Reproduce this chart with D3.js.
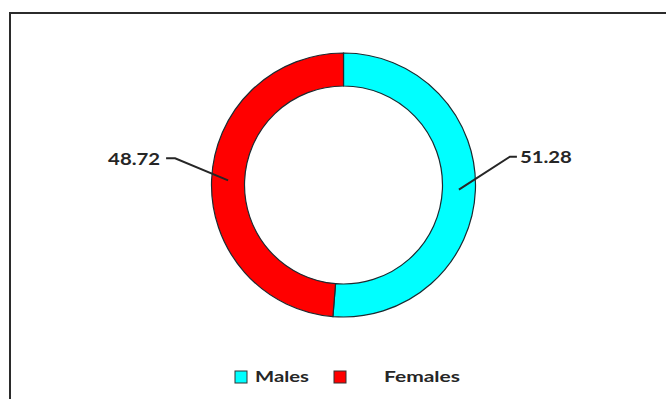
<!DOCTYPE html>
<html>
<head>
<meta charset="utf-8">
<script src="https://cdn.jsdelivr.net/npm/d3@7"></script>
<style>
  html, body { margin: 0; padding: 0; background: #fff; }
  svg { display: block; }
  text { font-family: Lato, "Open Sans", "Liberation Sans", sans-serif; font-weight: bold; fill: #262626; }
</style>
</head>
<body>
<svg id="chart" width="666" height="399"></svg>
<script>
// Population share by sex (%)
const categories = ["Males", "Females"];
const values = [51.28, 48.72];
const colors = ["#00FFFF", "#FF0000"];

const svg = d3.select("#chart");
const W = 666, H = 399;

// chart frame (runs off the right and bottom edges)
svg.append("rect")
  .attr("x", 10).attr("y", 13)
  .attr("width", W).attr("height", H)
  .attr("fill", "#fff")
  .attr("stroke", "#2b2b2b")
  .attr("stroke-width", 2);

const cx = 343.5, cy = 185;
const rOuter = 132, rInner = 99;

const pie = d3.pie().sort(null).value(d => d)(values);
const arc = d3.arc().innerRadius(rInner).outerRadius(rOuter);

const g = svg.append("g").attr("transform", `translate(${cx},${cy})`);

g.selectAll("path.slice")
  .data(pie)
  .join("path")
  .attr("class", "slice")
  .attr("d", arc)
  .attr("fill", (d, i) => colors[i])
  .attr("stroke", "#1c2a30")
  .attr("stroke-width", 1.2);

// leader lines with elbow offsets relative to the ring midpoint
const midR = (rInner + rOuter) / 2;
const elbows = [
  { dx: 51, dy: -33, run: 7, anchor: "start" },
  { dx: -53, dy: -22, run: -9, anchor: "end" }
];

pie.forEach((d, i) => {
  const a = (d.startAngle + d.endAngle) / 2;
  const px = Math.sin(a) * midR, py = -Math.cos(a) * midR;
  const e = elbows[i];
  const ex = px + e.dx, ey = py + e.dy;
  const tx = ex + e.run;
  g.append("path")
    .attr("d", d3.line()([[px, py], [ex, ey], [tx, ey]]))
    .attr("fill", "none")
    .attr("stroke", "#262626")
    .attr("stroke-width", 2);
  g.append("text")
    .attr("x", tx + (e.anchor === "start" ? 3 : -6))
    .attr("y", ey + 2)
    .attr("dominant-baseline", "middle")
    .attr("text-anchor", e.anchor)
    .attr("font-size", 17)
    .attr("textLength", 52)
    .attr("lengthAdjust", "spacingAndGlyphs")
    .text(values[i].toFixed(2));
});

// legend
const legend = [
  { x: 235, tx: 255, tw: 54 },
  { x: 334, tx: 384, tw: 76 }
];
const ly = 377;
categories.forEach((c, i) => {
  const L = legend[i];
  svg.append("rect")
    .attr("x", L.x).attr("y", ly - 6)
    .attr("width", 12).attr("height", 12)
    .attr("fill", colors[i])
    .attr("stroke", "#333")
    .attr("stroke-width", 1);
  svg.append("text")
    .attr("x", L.tx).attr("y", ly + 1)
    .attr("dominant-baseline", "middle")
    .attr("font-size", 16)
    .attr("textLength", L.tw)
    .attr("lengthAdjust", "spacingAndGlyphs")
    .text(c);
});
</script>
</body>
</html>
